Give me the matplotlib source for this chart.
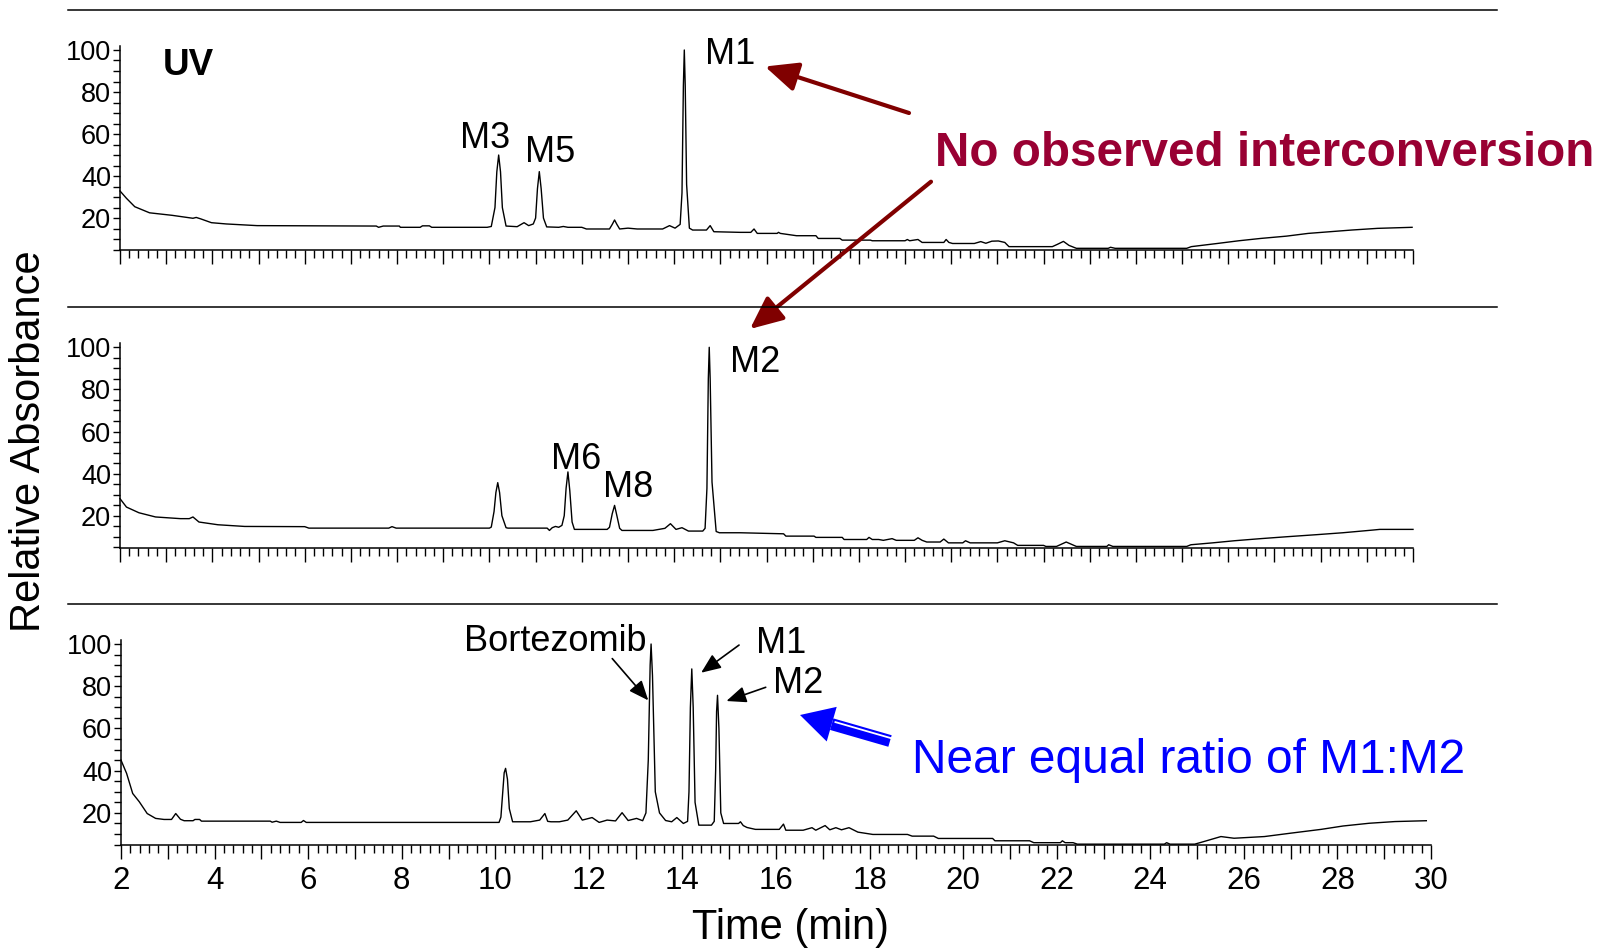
import numpy as np
import matplotlib
matplotlib.use("Agg")
import matplotlib.pyplot as plt
from matplotlib.ticker import MultipleLocator, FuncFormatter
from matplotlib.patches import FancyArrowPatch, Polygon
from matplotlib.lines import Line2D

plt.rcParams['font.family'] = ['Liberation Sans', 'DejaVu Sans']

W, H = 1601, 950

# UV traces: retention time (min) and relative absorbance (%)
uv1_time = [2.00, 2.14, 2.32, 2.64, 3.13, 3.58, 3.65, 3.75, 3.98, 4.30, 4.97, 7.55, 7.60, 7.70,
            8.05, 8.07, 8.50, 8.55, 8.70, 8.75, 9.95,
            10.04, 10.12, 10.16, 10.20, 10.24, 10.28, 10.36,
            10.60, 10.75, 10.85, 10.95,
            11.00, 11.04, 11.08, 11.12, 11.17, 11.24,
            11.50, 11.60, 11.70, 12.00, 12.10, 12.60, 12.66, 12.71, 12.76, 12.82, 13.00, 13.20,
            13.75, 13.90, 14.02,
            14.13, 14.17, 14.20, 14.22, 14.24, 14.27, 14.33,
            14.40, 14.70, 14.78, 14.86, 15.43, 15.66, 15.73, 15.80, 16.23, 16.26, 16.30, 16.65,
            17.07, 17.12, 17.59, 17.64, 18.25, 18.29, 19.00, 19.05, 19.10, 19.28, 19.37, 19.84,
            19.89, 19.95, 20.03, 20.50, 20.64, 20.75, 20.88, 21.02, 21.16, 21.25, 22.19, 22.30,
            22.43, 22.55, 22.71, 23.40, 23.45, 23.55, 25.10, 25.20, 25.76, 26.23, 26.70, 27.26,
            27.73, 28.20, 28.67, 29.23, 29.98]
uv1_abs = [32.9, 29.4, 25.4, 22.5, 21.3, 19.9, 20.3, 19.6, 17.8, 17.2, 16.4, 16.2, 15.6, 16.2,
           16.2, 15.6, 15.6, 16.3, 16.3, 15.6, 15.6,
           16.0, 25.0, 42.0, 50.0, 42.0, 25.0, 16.2,
           15.9, 17.8, 16.4, 17.2,
           20.0, 34.0, 42.1, 34.0, 20.0, 15.8,
           15.6, 16.0, 15.6, 15.6, 14.8, 14.8, 17.0, 19.1, 17.0, 14.8, 15.2, 14.8,
           14.8, 16.4, 15.2,
           17.0, 32.0, 83.0, 100.0, 83.0, 36.0, 15.2,
           14.3, 14.3, 16.4, 13.5, 13.2, 13.2, 14.8, 12.7, 12.7, 13.2, 12.7, 11.6,
           11.6, 10.3, 10.3, 9.5, 9.5, 9.2, 9.2, 9.8, 9.2, 9.8, 8.4, 8.4,
           9.8, 8.4, 7.9, 7.9, 8.8, 8.0, 9.0, 9.1, 8.4, 6.4, 6.4, 7.5,
           8.9, 7.0, 5.6, 5.6, 6.1, 5.6, 5.6, 6.4, 7.9, 9.2, 10.3, 11.4,
           12.7, 13.5, 14.3, 15.1, 15.6]

uv2_time = [2.00, 2.14, 2.41, 2.77, 3.31, 3.50, 3.58, 3.71, 4.12, 4.70, 6.00, 6.09, 7.82, 7.89,
            7.98, 10.00,
            10.04, 10.10, 10.14, 10.18, 10.22, 10.27, 10.36,
            10.40, 11.25, 11.30, 11.36, 11.43, 11.50, 11.57,
            11.62, 11.66, 11.70, 11.74, 11.79, 11.84,
            12.55, 12.60, 12.66, 12.71, 12.76, 12.82, 12.87, 13.54, 13.80, 13.92, 14.04, 14.17,
            14.31, 14.62,
            14.67, 14.71, 14.74, 14.76, 14.78, 14.82, 14.91,
            14.98, 15.43, 16.37, 16.42, 17.03, 17.07, 17.64, 17.68, 18.17, 18.22, 18.29, 18.43,
            18.53, 18.72, 18.81, 19.20, 19.28, 19.37, 19.47, 19.76, 19.84, 19.94, 20.25, 20.31,
            20.41, 21.00, 21.16, 21.35, 21.44, 22.00, 22.05, 22.28, 22.49, 22.71, 23.37, 23.41,
            23.50, 25.10, 25.19, 25.66, 26.13, 26.70, 27.26, 27.92, 28.48, 29.14, 29.28, 30.00]
uv2_abs = [28.1, 24.1, 21.4, 19.4, 18.6, 18.6, 19.4, 17.0, 15.7, 14.9, 14.8, 14.1, 14.1, 14.8,
           14.1, 14.1,
           14.6, 22.0, 31.0, 35.7, 31.0, 20.0, 14.3,
           14.1, 14.1, 13.0, 14.3, 14.9, 14.5, 15.4,
           20.0, 33.0, 40.8, 32.0, 17.0, 13.5,
           13.5, 14.5, 21.0, 24.9, 20.0, 14.0, 13.0, 13.0, 14.0, 16.2, 13.5, 14.3,
           12.7, 12.7,
           14.0, 33.0, 85.0, 100.0, 85.0, 36.0, 12.5,
           11.9, 11.9, 11.4, 10.3, 10.3, 9.7, 9.7, 8.7, 8.7, 9.7, 8.7, 8.7,
           8.3, 9.1, 8.3, 8.3, 9.5, 8.3, 7.5, 7.5, 8.9, 7.1, 7.1, 8.1,
           7.1, 7.1, 8.1, 7.1, 5.9, 5.9, 5.4, 5.4, 7.5, 5.4, 5.4, 6.2,
           5.4, 5.4, 6.2, 7.1, 8.1, 9.1, 10.0, 11.0, 11.9, 13.2, 13.5, 13.5]

uv3_time = [2.00, 2.12, 2.25, 2.39, 2.56, 2.74, 2.92, 3.08, 3.17, 3.27, 3.35, 3.54, 3.58, 3.68,
            3.72, 5.19, 5.23, 5.32, 5.40, 5.85, 5.90, 5.96, 10.08,
            10.12, 10.16, 10.19, 10.22, 10.26, 10.30, 10.37,
            10.75, 10.95, 11.06, 11.12, 11.19, 11.37, 11.55, 11.73, 11.86, 12.07, 12.22, 12.39,
            12.57, 12.71, 12.84, 13.02, 13.15,
            13.22, 13.27, 13.31, 13.33, 13.36, 13.42, 13.51, 13.64,
            13.77, 13.88, 14.02, 14.11,
            14.14, 14.17, 14.20, 14.23, 14.27, 14.35,
            14.62, 14.68, 14.71, 14.73, 14.75, 14.78, 14.82, 14.88,
            15.20, 15.24, 15.30, 15.38, 15.56, 16.07, 16.16, 16.21, 16.58, 16.77, 16.85, 17.05,
            17.15, 17.28, 17.40, 17.56, 17.75, 18.07, 18.81, 18.91, 19.37, 19.47, 20.63, 20.68,
            21.42, 21.51, 22.08, 22.12, 22.18, 22.35, 22.44, 24.30, 24.35, 24.42, 24.95, 25.14,
            25.51, 25.79, 26.44, 27.00, 27.65, 28.12, 28.68, 29.23, 29.90]
uv3_abs = [45.0, 38.7, 29.2, 25.3, 19.7, 17.4, 16.9, 16.9, 19.7, 17.0, 16.3, 16.3, 16.9, 16.9,
           16.1, 16.1, 15.6, 16.1, 15.5, 15.5, 16.4, 15.5, 15.5,
           18.0, 30.0, 39.0, 41.1, 36.0, 22.0, 15.8,
           15.8, 16.6, 19.7, 16.0, 15.8, 15.8, 16.6, 21.0, 16.6, 17.8, 15.5, 16.6,
           16.2, 20.1, 16.4, 17.4, 16.3,
           20.0, 45.0, 90.0, 100.0, 85.0, 30.0, 20.0, 16.4,
           15.8, 17.8, 15.0, 16.0,
           30.0, 70.0, 88.2, 70.0, 25.0, 14.2,
           14.2, 16.0, 40.0, 68.0, 75.7, 60.0, 20.0, 15.0,
           15.0, 15.8, 14.0, 13.1, 12.2, 12.2, 14.7, 11.8, 11.8, 13.0, 11.8, 14.0,
           12.0, 13.0, 12.0, 13.0, 10.9, 9.8, 9.8, 9.0, 9.0, 7.9, 7.9, 6.8,
           6.8, 5.9, 5.9, 6.8, 5.9, 5.9, 5.2, 5.2, 5.9, 5.2, 5.2, 6.4,
           8.8, 8.0, 8.8, 10.4, 12.2, 13.8, 15.1, 15.9, 16.3]

y_ticks = [20, 40, 60, 80, 100]
x_ticks = list(range(2, 31))


def px(x, y):
    """Pixel position (origin top-left) to figure fraction."""
    return (x / W, 1 - y / H)


def style_axis(ax, show_xlabels):
    ax.set_xlim(2, 30)
    ax.set_ylim(4.8, 101.9)
    for side in ['top', 'right']:
        ax.spines[side].set_visible(False)
    for side in ['left', 'bottom']:
        ax.spines[side].set_linewidth(1.1)
    ax.set_yticks(y_ticks)
    ax.yaxis.set_minor_locator(MultipleLocator(5))
    ax.set_xticks(x_ticks)
    ax.xaxis.set_minor_locator(MultipleLocator(0.2))
    ax.tick_params(axis='y', which='both', direction='out', length=5, width=1,
                   pad=1.5, labelsize=19.5)
    ax.tick_params(axis='x', which='major', direction='out', length=10, width=1,
                   pad=5, labelsize=22.5)
    ax.tick_params(axis='x', which='minor', direction='out', length=6, width=1)
    if show_xlabels:
        ax.xaxis.set_major_formatter(FuncFormatter(
            lambda v, p: f'{v:.0f}' if int(round(v)) % 2 == 0 else ''))
    else:
        ax.tick_params(axis='x', labelbottom=False)


fig = plt.figure(figsize=(W / 100, H / 100), dpi=100)

ax1 = fig.add_axes([120 / W, 1 - 250 / H, 1293 / W, 204 / H])
ax2 = fig.add_axes([120 / W, 1 - 547.7 / H, 1293 / W, 204.4 / H])
ax3 = fig.add_axes([121 / W, 1 - 845 / H, 1310 / W, 205 / H])

for ax, t, a in [(ax1, uv1_time, uv1_abs), (ax2, uv2_time, uv2_abs), (ax3, uv3_time, uv3_abs)]:
    ax.plot(t, a, color='black', lw=1.0, clip_on=False)
    style_axis(ax, ax is ax3)

# separator rules above each trace
for y in [10, 307, 604]:
    fig.add_artist(Line2D([68 / W, 1497 / W], [1 - y / H, 1 - y / H], color='black', lw=1.1))

lab = dict(fontsize=26, va='baseline')
ax1.text(2.93, 92.6, 'UV', fontsize=26.5, fontweight='bold', ha='left', va='center')
ax1.text(9.9, 53.3, 'M3', ha='center', **lab)
ax1.text(11.31, 46.7, 'M5', ha='center', **lab)
ax1.text(14.66, 93.3, 'M1', ha='left', **lab)
ax2.text(11.87, 42.2, 'M6', ha='center', **lab)
ax2.text(13.0, 28.9, 'M8', ha='center', **lab)
ax2.text(15.21, 88.2, 'M2', ha='left', **lab)
ax3.text(13.24, 96.9, 'Bortezomib', ha='right', **lab)
ax3.text(15.57, 95.7, 'M1', ha='left', **lab)
ax3.text(15.93, 76.8, 'M2', ha='left', **lab)

black_arrow = dict(arrowstyle='-|>,head_length=0.6,head_width=0.25', mutation_scale=20,
                   lw=1.2, color='black', shrinkA=0, shrinkB=0)
ax3.annotate('', xy=(13.27, 73.3), xytext=(12.50, 93.1), arrowprops=black_arrow)
ax3.annotate('', xy=(14.40, 86.4), xytext=(15.21, 99.5), arrowprops=black_arrow)
ax3.annotate('', xy=(14.94, 73.0), xytext=(15.78, 79.5), arrowprops=black_arrow)

fig.text(*px(935, 166), 'No observed interconversion', color='#990033', fontsize=34.3,
         fontweight='bold', ha='left', va='baseline')
for start, end in [((909, 113), (765, 66.5)), ((931, 181.7), (750, 329))]:
    fig.patches.append(FancyArrowPatch(px(*start), px(*end), transform=fig.transFigure,
                                       arrowstyle='-|>,head_length=1.0,head_width=0.45',
                                       mutation_scale=20, lw=3, color='#800000',
                                       shrinkA=0, shrinkB=0))

fig.text(*px(912, 773), 'Near equal ratio of M1:M2', color='#0000ff', fontsize=34.5,
         ha='left', va='baseline')

# wide blue arrow with a white stripe along the shaft
tip = np.array([800.0, 715.0])
tail = np.array([890.0, 741.0])
u = (tip - tail) / np.linalg.norm(tip - tail)
p = np.array([-u[1], u[0]])
base = tip - u * 33
head = [tip, base + p * 18, base - p * 18]
shaft = [base + p * 6, tail + p * 6, tail - p * 6, base - p * 6]
for pts in [shaft, head]:
    fig.patches.append(Polygon([px(*q) for q in pts], closed=True, transform=fig.transFigure,
                               facecolor='#0000ff', edgecolor='none'))
s0 = base - u * 3 + p * 3
s1 = tail + p * 3
fig.add_artist(Line2D([s0[0] / W, s1[0] / W], [1 - s0[1] / H, 1 - s1[1] / H],
                      color='white', lw=1.3))

fig.text(*px(790, 939), 'Time (min)', fontsize=30, ha='center', va='baseline')
fig.text(*px(29, 441), 'Relative Absorbance', fontsize=30, rotation=90,
         ha='center', va='center')

fig.savefig('out.png', dpi=100)
